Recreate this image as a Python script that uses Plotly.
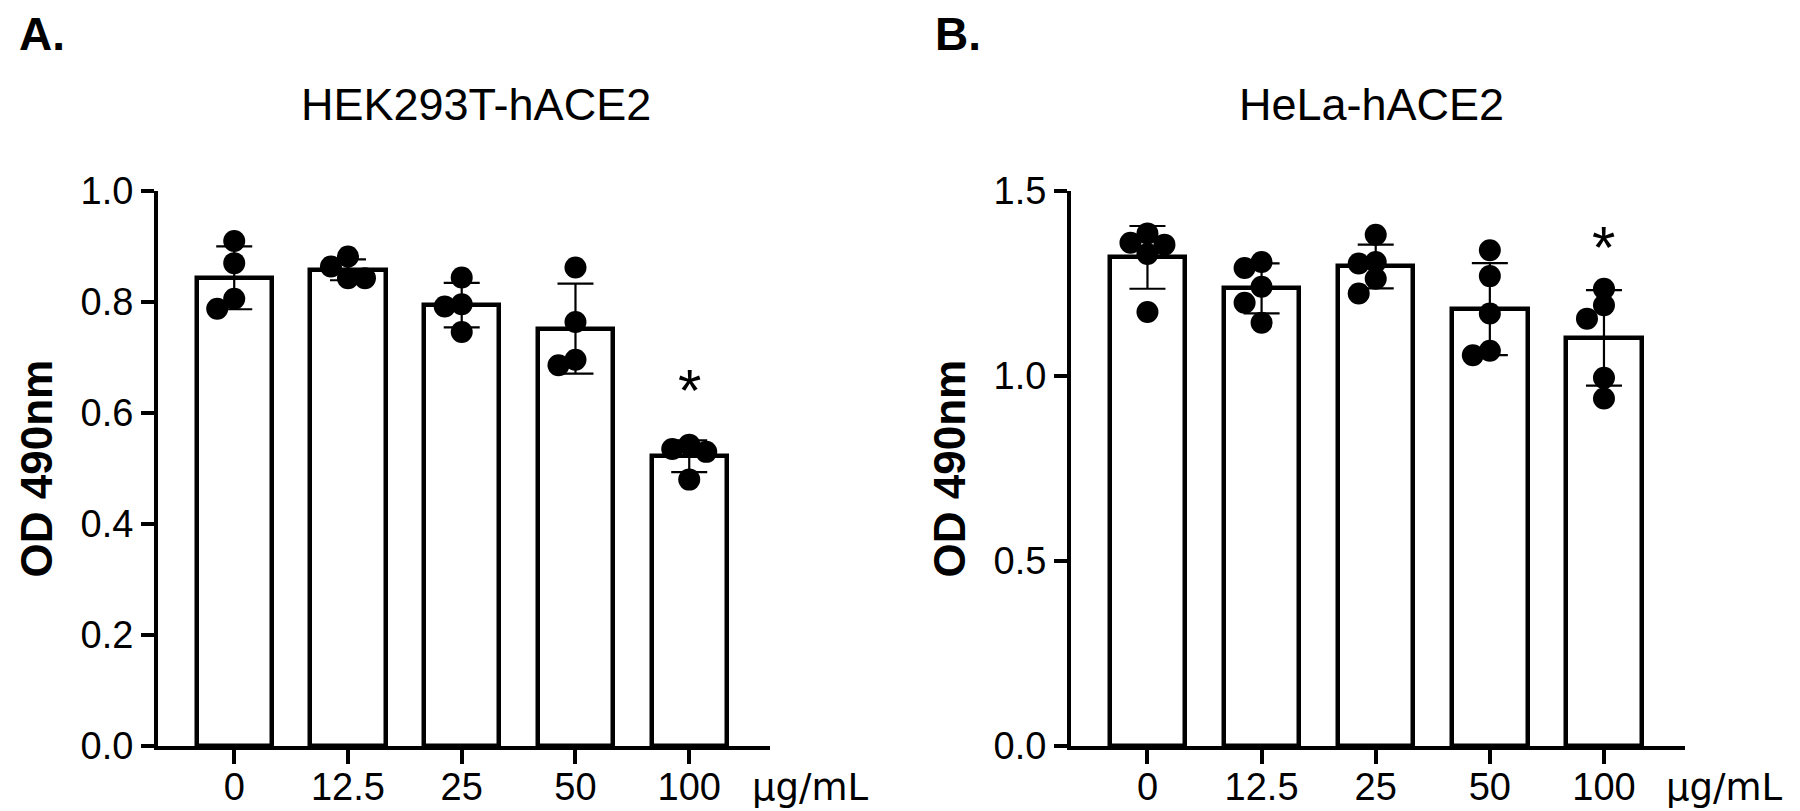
import numpy as np
import plotly.graph_objects as go

# ---------------- data ----------------
categories = ["0", "12.5", "25", "50", "100"]
unit_label = "μg/mL"
titles = ["HEK293T-hACE2", "HeLa-hACE2"]
panel_letters = ["A.", "B."]
y_title = "OD 490nm"

# Panel A: HEK293T-hACE2 replicates (OD 490nm)
hek_0 = [0.910, 0.870, 0.806, 0.788]
hek_12_5 = [0.882, 0.864, 0.843, 0.843]
hek_25 = [0.844, 0.796, 0.792, 0.746]
hek_50 = [0.862, 0.764, 0.696, 0.686]
hek_100 = [0.543, 0.535, 0.530, 0.480]

# Panel B: HeLa-hACE2 replicates (OD 490nm)
hela_0 = [1.385, 1.360, 1.355, 1.330, 1.173]
hela_12_5 = [1.308, 1.292, 1.241, 1.198, 1.144]
hela_25 = [1.382, 1.308, 1.304, 1.263, 1.223]
hela_50 = [1.340, 1.270, 1.169, 1.068, 1.056]
hela_100 = [1.236, 1.191, 1.155, 0.995, 0.939]

yticks_A = [0.0, 0.2, 0.4, 0.6, 0.8, 1.0]
yticks_B = [0.0, 0.5, 1.0, 1.5]
yrange_A = [0.0, 1.0]
yrange_B = [0.0, 1.5]
significant = ["100"]          # doses marked with *
star_y = [0.67, 1.39]          # height of the * in each panel

# ---------------- styling / layout ----------------
W, H = 1800, 811
FONT = "Arial, Liberation Sans, sans-serif"
XRANGE = [-0.67, 4.71]
BAR_W = 0.66
x_domains = [[150 / W, 762 / W], [1063 / W, 1677 / W]]
y_domain = [(H - 738) / H, (H - 183) / H]

panels = [
    dict(groups=[hek_0, hek_12_5, hek_25, hek_50, hek_100], yticks=yticks_A, yrange=yrange_A,
         fmt="{:.1f}", title_x=468, letter_x=10, ylab_x=28, unit_x=743),
    dict(groups=[hela_0, hela_12_5, hela_25, hela_50, hela_100], yticks=yticks_B, yrange=yrange_B,
         fmt="{:.1f}", title_x=1363, letter_x=926, ylab_x=941, unit_x=1657),
]


def swarm(values, px_per_x, px_per_y, step=17, thresh=16):
    vals = np.asarray(values, dtype=float)
    order = np.argsort(-vals)
    placed = []
    offs = np.zeros(len(vals))
    cands = [0, -step, step, -2 * step, 2 * step, -3 * step, 3 * step]
    for idx in order:
        ypx = vals[idx] * px_per_y
        chosen = cands[-1]
        for c in cands:
            if all(np.hypot(c - px, ypx - py) >= thresh for px, py in placed):
                chosen = c
                break
        placed.append((chosen, ypx))
        offs[idx] = chosen / px_per_x
    return offs


fig = go.Figure()
annotations = []
xpos = list(range(len(categories)))

for p, panel in enumerate(panels):
    xa = "x" if p == 0 else "x2"
    ya = "y" if p == 0 else "y2"
    groups = panel["groups"]
    means = [float(np.mean(g)) for g in groups]
    sds = [float(np.std(g, ddof=1)) for g in groups]

    fig.add_trace(go.Bar(
        x=xpos, y=means, width=BAR_W, xaxis=xa, yaxis=ya,
        marker=dict(color="white", line=dict(color="black", width=4.5)),
        error_y=dict(type="data", array=sds, visible=True, color="black", thickness=2.2, width=18),
        showlegend=False, hoverinfo="skip",
    ))

    dom = x_domains[p]
    px_per_x = (dom[1] - dom[0]) * W / (XRANGE[1] - XRANGE[0])
    px_per_y = (y_domain[1] - y_domain[0]) * H / (panel["yrange"][1] - panel["yrange"][0])
    xs, ys = [], []
    for i, g in enumerate(groups):
        offs = swarm(g, px_per_x, px_per_y)
        xs.extend(list(i + offs))
        ys.extend(g)
    fig.add_trace(go.Scatter(
        x=xs, y=ys, mode="markers", xaxis=xa, yaxis=ya,
        marker=dict(color="black", size=22, line=dict(width=0)),
        showlegend=False, cliponaxis=False, hoverinfo="skip",
    ))

    axis_common = dict(showline=True, linecolor="black", linewidth=4, ticks="outside",
                       tickwidth=4, tickcolor="black", showgrid=False, zeroline=False,
                       tickfont=dict(family=FONT, size=38, color="black"))
    fig.update_layout(**{
        ("xaxis" if p == 0 else "xaxis2"): dict(
            domain=dom, range=XRANGE, tickvals=xpos, ticktext=categories, ticklen=14,
            ticklabelstandoff=-10, anchor=ya, fixedrange=True, **axis_common),
        ("yaxis" if p == 0 else "yaxis2"): dict(
            domain=y_domain, range=panel["yrange"], tickvals=panel["yticks"],
            ticktext=[panel["fmt"].format(v) for v in panel["yticks"]], ticklen=13,
            anchor=xa, fixedrange=True, **axis_common),
    })

    # texts
    annotations.append(dict(text=titles[p], x=panel["title_x"] / W, y=(H - 96) / H, xref="paper",
                            yref="paper", xanchor="center", yanchor="middle", showarrow=False,
                            font=dict(family=FONT, size=45, color="black")))
    annotations.append(dict(text="<b>" + panel_letters[p] + "</b>", x=panel["letter_x"] / W,
                            y=1.0, xref="paper", yref="paper", xanchor="left",
                            yanchor="top", yshift=1, showarrow=False, borderpad=0,
                            font=dict(family=FONT, size=46, color="black")))
    annotations.append(dict(text="<b>" + y_title + "</b>", x=panel["ylab_x"] / W,
                            y=(y_domain[0] + y_domain[1]) / 2, xref="paper", yref="paper",
                            xanchor="center", yanchor="middle", textangle=-90, showarrow=False,
                            font=dict(family=FONT, size=44, color="black")))
    annotations.append(dict(text=unit_label, x=panel["unit_x"] / W, y=0.0, yshift=9,
                            xref="paper", yref="paper", xanchor="left", yanchor="bottom",
                            showarrow=False, borderpad=0,
                            font=dict(family="DejaVu Sans, " + FONT, size=37, color="black")))
    for cat in significant:
        annotations.append(dict(text="*", x=categories.index(cat), y=star_y[p], xref=xa, yref=ya,
                                xanchor="center", yanchor="middle", yshift=-16, showarrow=False,
                                font=dict(family=FONT, size=60, color="black")))

fig.update_layout(
    width=W, height=H, margin=dict(l=0, r=0, t=0, b=0, autoexpand=False),
    paper_bgcolor="white", plot_bgcolor="white", annotations=annotations,
    bargap=0, showlegend=False,
)

fig.write_html("out.html")
